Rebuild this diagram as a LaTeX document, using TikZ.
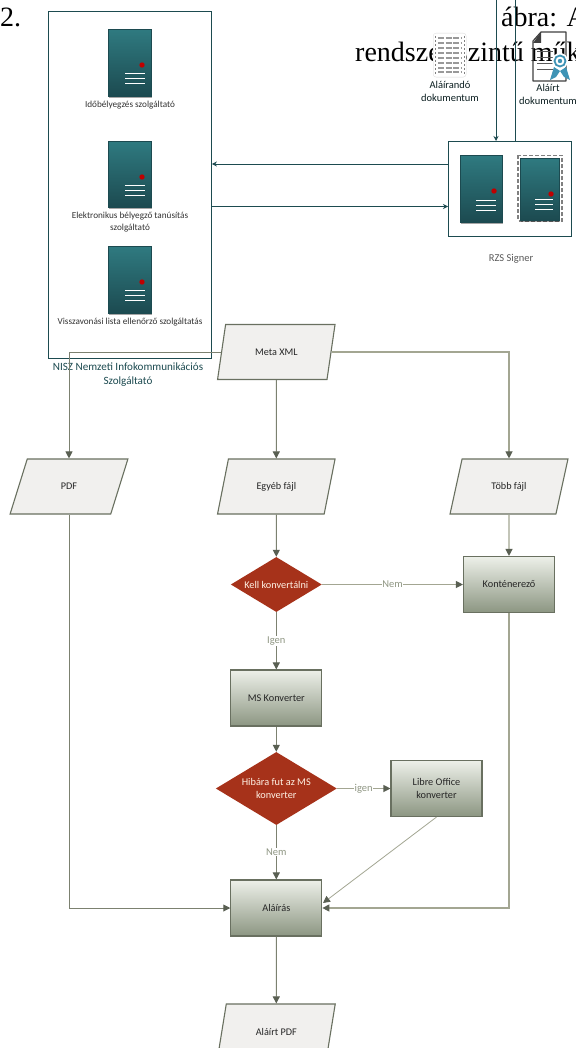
\documentclass[tikz,border=0pt]{standalone}
\usepackage{fontspec}
\setmainfont{Liberation Serif}
\newfontfamily\carl{Carlito}
\usetikzlibrary{shapes.geometric,arrows.meta}
\definecolor{teal1}{HTML}{2F7A80}
\definecolor{teal2}{HTML}{1C4A50}
\definecolor{tealline}{HTML}{1D4B50}
\definecolor{flowline}{HTML}{7C8170}
\definecolor{flowlight}{HTML}{A3A692}
\definecolor{flowedge}{HTML}{697060}
\definecolor{parafill}{HTML}{F1F0EE}
\definecolor{redd}{HTML}{A6321A}
\definecolor{boxtop}{HTML}{EDF0E9}
\definecolor{boxbot}{HTML}{8C9682}
\definecolor{lab}{HTML}{8F9683}
\definecolor{ribbon}{HTML}{3E93B5}
\tikzset{x=1pt,y=-1pt,
  lbl/.style={font=\carl\fontsize{9.2}{12}\selectfont,text=black!80,align=center,inner sep=0pt},
  doclbl/.style={font=\carl\fontsize{10.5}{13}\selectfont,text=black!60!teal2,align=center,inner sep=0pt},
  big/.style={font=\fontsize{28}{30}\selectfont,inner sep=0pt,anchor=base west},
  tlink/.style={draw=tealline,line width=.8pt},
  tarrow/.style={tlink,-{Stealth[length=5pt,width=5pt]}},
  flink/.style={draw=flowline,line width=1pt},
  farrow/.style={flink,-{Triangle[length=7pt,width=7pt,color=flowedge!85!black]}},
  farrowlight/.style={farrow,draw=flowlight,line width=1.1pt},
  framebox/.style={rectangle,draw=tealline,line width=.9pt,fill=white,anchor=north west,inner sep=0pt},
  paral/.style={trapezium,trapezium left angle=63,trapezium right angle=117,trapezium stretches=true,minimum width=118pt,minimum height=55pt,inner sep=0pt,draw=flowedge,line width=1.1pt,fill=parafill,align=center,font=\carl\fontsize{10.2}{13}\selectfont,text=black!85},
  dia/.style={diamond,fill=redd,draw=none,text=white!90!orange,inner sep=0pt,align=center,font=\carl\fontsize{10.3}{13}\selectfont},
  gbox/.style={rectangle,draw=flowedge,line width=1.1pt,top color=boxtop,bottom color=boxbot,minimum width=91pt,minimum height=56pt,inner sep=0pt,align=center,font=\carl\fontsize{10.3}{13}\selectfont,text=black!85},
  elab/.style={fill=white,inner sep=.5pt,text=lab,font=\carl\fontsize{10.5}{12}\selectfont}
}
% left, top, name, width, height, dot dx, bars from dx, bars to dx, first bar dy
\newcommand{\srv}[9]{%
  \fill[black,opacity=.35] (#1+1,#2+2) rectangle (#1+#4+1,#2+#5+2);
  \node[rectangle,draw=teal2,line width=.5pt,top color=teal1,bottom color=teal2,minimum width=#4pt,minimum height=#5pt,inner sep=0pt,anchor=north west] (#3) at (#1,#2) {};
  \fill[red!75!black] (#1+#6,#2+36) circle (2.7pt);
  \foreach \dy in {0,5,10}{\draw[white,line width=.9pt] (#1+#7,#2+#9+\dy) -- (#1+#8,#2+#9+\dy);}
}
\begin{document}
\begin{tikzpicture}
\useasboundingbox (0,0) rectangle (575,1048);
\fill[white] (0,0) rectangle (575,1048);

% heading text
\node[big] (h1) at (0,27) {2.};
\node[big] (h2) at (501,27) {ábra: A};
\node[big] (h3) at (355,62) {rendszer szintű műk};

% document to sign
\node[rectangle,fill=white,draw=black!15,line width=.3pt,rounded corners=3pt,minimum width=33pt,minimum height=44pt,anchor=north west,inner sep=0pt] (docA) at (433,33) {};
\foreach \yy in {38,43,48,53,58,63,68,72}{\draw[black!40,line width=1.4pt,dash pattern=on 6pt off 1.5pt] (438,\yy) -- (461,\yy);}
\draw[black!50,line width=.8pt,dash pattern=on 2pt off 2pt] (435,36) -- (435,75);
\draw[black!50,line width=.8pt,dash pattern=on 2pt off 2pt] (464,36) -- (464,75);
\node[doclbl,anchor=north] (lA) at (450,81) {Aláírandó\\dokumentum};

% signed document
\draw[black!75,line width=1.2pt,line join=round] (541,32) -- (566,32) -- (566,81) -- (533,81) -- (533,41) -- cycle;
\fill[black!75] (541,32) -- (541,43) -- (533,43) -- cycle;
\foreach \yy in {52,58,64,70}{\draw[black!65,line width=1pt] (537,\yy) -- (553,\yy);}
\fill[ribbon] (554,67) -- (550,80) -- (556,77) -- (560,71) -- cycle;
\fill[ribbon] (566,67) -- (570,80) -- (564,77) -- (560,71) -- cycle;
\fill[white] (560,61) circle (8pt);
\draw[ribbon,line width=1.8pt] (560,61) circle (5.5pt);
\fill[ribbon] (560,61) circle (2.2pt);
\node[doclbl,anchor=north] (lB) at (548,84) {Aláírt\\dokumentum};

% RZS signer
\node[framebox,minimum width=123pt,minimum height=95pt] (rzs) at (448,141) {};
\srv{460}{155}{s1}{42}{67}{34}{16}{36}{45}
\draw[black!50,line width=1.6pt,dash pattern=on 4pt off 2pt] (518,155.5) rectangle (562,221);
\srv{520}{158}{s2}{39}{62}{31}{15}{33}{41}
\node[doclbl,text=black!65] (rzsl) at (511,259) {RZS Signer};
\coordinate (t1) at (496,0);
\coordinate (t2) at (515,0);
\draw[tarrow] (t1) -- (t1 |- rzs.north);
\draw[tlink] (t2 |- rzs.north) -- (t2);

% NISZ frame
\node[framebox,minimum width=163pt,minimum height=347pt] (nisz) at (48,11) {};
\srv{108}{29}{n1}{43}{67}{34}{17}{37}{44}
\srv{108}{141}{n2}{43}{66}{34}{17}{37}{44}
\srv{108}{246}{n3}{43}{67}{34}{17}{37}{44}
\node[lbl] (l1) at (130,105) {Időbélyegzés szolgáltató};
\node[lbl] (l2) at (130,222) {Elektronikus bélyegző tanúsítás\\szolgáltató};
\node[lbl] (l3) at (130,322) {Visszavonási lista ellenőrző szolgáltatás};
\node[lbl,text=teal2,font=\carl\fontsize{11.1}{14}\selectfont] (nl) at (128,375) {NISZ Nemzeti Infokommunikációs\\Szolgáltató};
\coordinate (ra) at (rzs.west |- 0,164);
\coordinate (nb) at (nisz.east |- 0,206.5);
\draw[tarrow] (ra) -- (nisz.east |- ra);
\draw[tarrow] (nb) -- (rzs.west |- nb);

% flow nodes
\node[paral] (meta) at (276.3,352) {Meta XML};
\node[paral] (pdf) at (69,486.5) {PDF};
\node[paral] (egyeb) at (276.3,486.5) {Egyéb fájl};
\node[paral] (tobb) at (509,486.5) {Több fájl};
\node[dia,minimum width=91pt,minimum height=55pt,aspect=1.65] (kell) at (276.3,584.5) {Kell konvertálni};
\node[gbox] (kont) at (509,584.5) {Konténerező};
\node[gbox] (ms) at (276.3,698) {MS Konverter};
\node[dia,minimum width=121pt,minimum height=73pt,aspect=1.65] (hiba) at (276.3,788.5) {Hibára fut az MS\\konverter};
\node[gbox] (libre) at (436.5,788.5) {Libre Office\\konverter};
\node[gbox] (alair) at (276.3,908) {Aláírás};
\node[paral] (apdf) at (276.3,1031.5) {Aláírt PDF};

% flow connectors
\draw[farrow] (meta.west) -| (pdf.north);
\draw[farrowlight] (meta.east) -| (tobb.north);
\draw[farrow] (meta.south) -- (egyeb.north);
\draw[farrow] (egyeb.south) -- (kell.north);
\draw[farrowlight] (tobb.south) -- (kont.north);
\draw[farrowlight] (kell.east) -- node[elab,pos=.5] (nem1) {Nem} (kont.west);
\draw[farrow] (kell.south) -- node[elab,pos=.5] (igen1) {Igen} (ms.north);
\draw[farrow] (ms.south) -- (hiba.north);
\draw[farrowlight] (hiba.east) -- node[elab,pos=.5] (igen2) {igen} (libre.west);
\draw[farrow] (hiba.south) -- node[elab,pos=.5] (nem2) {Nem} (alair.north);
\draw[farrow] (pdf.south) |- (alair.west);
\draw[farrowlight] (kont.south) |- (alair.east);
\coordinate (aj) at (323,903);
\draw[farrowlight,line width=.8pt] (libre.south) -- (aj);
\draw[farrow] (alair.south) -- (apdf.north);
\end{tikzpicture}
\end{document}
